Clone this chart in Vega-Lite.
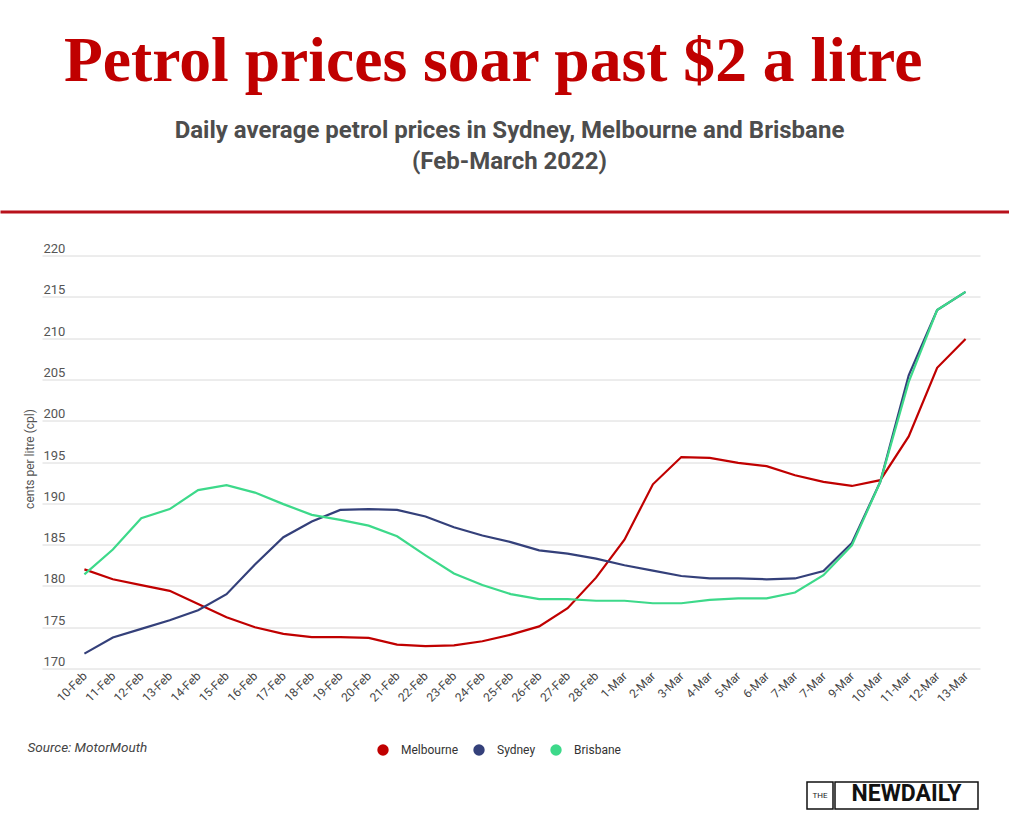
{
  "$schema": "https://vega.github.io/schema/vega-lite/v6.json",
  "padding": {"left": 0, "top": 29, "right": 0, "bottom": 0},
  "spacing": 21.5,
  "align": "none",
  "config": {
    "font": "Roboto",
    "view": {"stroke": null}
  },
  "title": {
    "text": "Petrol prices soar past $2 a litre",
    "anchor": "start",
    "frame": "group",
    "offset": 23,
    "dx": 62,
    "font": "Liberation Serif",
    "fontSize": 63.6,
    "fontWeight": "bold",
    "color": "#c00000"
  },
  "vconcat": [
    {
      "width": 1009,
      "height": 0.01,
      "data": {"values": [{}]},
      "mark": {"type": "point", "opacity": 0, "size": 201},
      "view": {"stroke": "#b8111b", "strokeWidth": 3},
      "title": {
        "text": ["Daily average petrol prices in Sydney, Melbourne and Brisbane", "(Feb-March 2022)"],
        "anchor": "middle",
        "frame": "group",
        "offset": 31,
        "dx": 3,
        "font": "Roboto",
        "fontSize": 24,
        "fontWeight": "bold",
        "color": "#4d4d4d",
        "lineHeight": 31
      }
    },
    {
      "spacing": 0,
      "hconcat": [
        {
          "width": 1,
          "height": 413,
          "data": {"values": [{}]},
          "mark": {"type": "point", "opacity": 0, "size": 1}
        },
        {
          "width": 938,
          "height": 413,
          "data": {
            "values": [
              {"day": "10-Feb", "Melbourne": 182.0, "Sydney": 171.8, "Brisbane": 181.4},
              {"day": "11-Feb", "Melbourne": 180.8, "Sydney": 173.75, "Brisbane": 184.4},
              {"day": "12-Feb", "Melbourne": 180.1, "Sydney": 174.8, "Brisbane": 188.2},
              {"day": "13-Feb", "Melbourne": 179.4, "Sydney": 175.85, "Brisbane": 189.3},
              {"day": "14-Feb", "Melbourne": 177.8, "Sydney": 177.05, "Brisbane": 191.6},
              {"day": "15-Feb", "Melbourne": 176.2, "Sydney": 179.0, "Brisbane": 192.2},
              {"day": "16-Feb", "Melbourne": 175.0, "Sydney": 182.6, "Brisbane": 191.3},
              {"day": "17-Feb", "Melbourne": 174.2, "Sydney": 185.9, "Brisbane": 189.9},
              {"day": "18-Feb", "Melbourne": 173.8, "Sydney": 187.8, "Brisbane": 188.6},
              {"day": "19-Feb", "Melbourne": 173.8, "Sydney": 189.2, "Brisbane": 188.0},
              {"day": "20-Feb", "Melbourne": 173.7, "Sydney": 189.3, "Brisbane": 187.3},
              {"day": "21-Feb", "Melbourne": 172.9, "Sydney": 189.2, "Brisbane": 186.0},
              {"day": "22-Feb", "Melbourne": 172.7, "Sydney": 188.4, "Brisbane": 183.7},
              {"day": "23-Feb", "Melbourne": 172.8, "Sydney": 187.1, "Brisbane": 181.5},
              {"day": "24-Feb", "Melbourne": 173.3, "Sydney": 186.1, "Brisbane": 180.1},
              {"day": "25-Feb", "Melbourne": 174.1, "Sydney": 185.3, "Brisbane": 179.0},
              {"day": "26-Feb", "Melbourne": 175.1, "Sydney": 184.3, "Brisbane": 178.4},
              {"day": "27-Feb", "Melbourne": 177.3, "Sydney": 183.9, "Brisbane": 178.4},
              {"day": "28-Feb", "Melbourne": 181.0, "Sydney": 183.3, "Brisbane": 178.2},
              {"day": "1-Mar", "Melbourne": 185.6, "Sydney": 182.5, "Brisbane": 178.2},
              {"day": "2-Mar", "Melbourne": 192.3, "Sydney": 181.85, "Brisbane": 177.9},
              {"day": "3-Mar", "Melbourne": 195.6, "Sydney": 181.2, "Brisbane": 177.9},
              {"day": "4-Mar", "Melbourne": 195.5, "Sydney": 180.9, "Brisbane": 178.3},
              {"day": "5-Mar", "Melbourne": 194.9, "Sydney": 180.9, "Brisbane": 178.5},
              {"day": "6-Mar", "Melbourne": 194.5, "Sydney": 180.8, "Brisbane": 178.5},
              {"day": "7-Mar", "Melbourne": 193.4, "Sydney": 180.9, "Brisbane": 179.2},
              {"day": "7-Mar ", "Melbourne": 192.6, "Sydney": 181.8, "Brisbane": 181.3},
              {"day": "9-Mar", "Melbourne": 192.1, "Sydney": 185.2, "Brisbane": 184.9},
              {"day": "10-Mar", "Melbourne": 192.8, "Sydney": 192.6, "Brisbane": 192.6},
              {"day": "11-Mar", "Melbourne": 198.1, "Sydney": 205.5, "Brisbane": 204.7},
              {"day": "12-Mar", "Melbourne": 206.4, "Sydney": 213.4, "Brisbane": 213.4},
              {"day": "13-Mar", "Melbourne": 209.9, "Sydney": 215.6, "Brisbane": 215.6}
            ]
          },
          "transform": [{"fold": ["Melbourne", "Sydney", "Brisbane"], "as": ["city", "price"]}],
          "mark": {"type": "line", "strokeWidth": 2.2},
          "encoding": {
            "x": {
              "field": "day",
              "type": "ordinal",
              "sort": null,
              "scale": {"type": "point", "padding": 1.04, "align": 0.746},
              "axis": {
                "title": "Source: MotorMouth",
                "titleX": -15,
                "titleY": 83,
                "titleAlign": "left",
                "titleBaseline": "alphabetic",
                "titleFont": "Roboto",
                "titleFontSize": 13.5,
                "titleFontStyle": "italic",
                "titleFontWeight": "normal",
                "titleColor": "#444444",
                "labelAngle": -45,
                "labelAlign": "right",
                "labelBaseline": "middle",
                "labelFontSize": 12,
                "labelColor": "#444444",
                "ticks": true,
                "tickSize": 91,
                "tickOpacity": 0,
                "labelPadding": -86,
                "domain": false,
                "grid": false
              }
            },
            "y": {
              "field": "price",
              "type": "quantitative",
              "scale": {"domain": [170, 220], "zero": false, "nice": false},
              "axis": {
                "title": "cents per litre (cpl)",
                "titleX": -13,
                "titleY": 203,
                "titleAngle": -90,
                "titleAlign": "center",
                "titleBaseline": "middle",
                "titleFontSize": 12,
                "titleFontWeight": "normal",
                "titleColor": "#555555",
                "values": [170, 175, 180, 185, 190, 195, 200, 205, 210, 215, 220],
                "grid": true,
                "gridColor": "#dadada",
                "domain": false,
                "ticks": true,
                "tickSize": 39,
                "tickOpacity": 0,
                "labelAlign": "left",
                "labelBaseline": "alphabetic",
                "labelPadding": -40,
                "labelOffset": -3,
                "labelFontSize": 13,
                "labelColor": "#555555"
              }
            },
            "color": {
              "field": "city",
              "type": "nominal",
              "scale": {"domain": ["Melbourne", "Sydney", "Brisbane"], "range": ["#c00000", "#34407a", "#3dd98a"]},
              "legend": {
                "orient": "none",
                "legendX": 375,
                "legendY": 532,
                "direction": "horizontal",
                "title": null,
                "symbolType": "circle",
                "symbolSize": 130,
                "symbolStrokeWidth": 0,
                "labelFontSize": 12,
                "labelColor": "#333333",
                "labelOffset": 12,
                "columnPadding": 14,
                "encode": {"symbols": {"update": {"fill": {"scale": "color", "field": "value"}, "opacity": {"value": 1}}}}
              }
            }
          }
        }
      ]
    },
    {
      "spacing": 0,
      "hconcat": [
        {
          "width": 804,
          "height": 28,
          "data": {"values": [{}]},
          "mark": {"type": "point", "opacity": 0, "size": 1}
        },
        {
          "width": 26,
          "height": 27,
          "data": {"values": [{}]},
          "mark": {"type": "point", "opacity": 0, "size": 1},
          "view": {"stroke": "#111111", "strokeWidth": 1.5},
          "title": {"text": "THE", "font": "Roboto", "fontSize": 8, "fontWeight": "normal", "color": "#222222", "anchor": "middle", "frame": "group", "offset": -18}
        },
        {
          "width": 143,
          "height": 27,
          "data": {"values": [{}]},
          "mark": {"type": "point", "opacity": 0, "size": 1},
          "view": {"stroke": "#111111", "strokeWidth": 1.5},
          "title": {"text": "NEWDAILY", "font": "Roboto", "fontSize": 23, "fontWeight": "bold", "color": "#111111", "anchor": "middle", "frame": "group", "offset": -24}
        }
      ]
    }
  ]
}
